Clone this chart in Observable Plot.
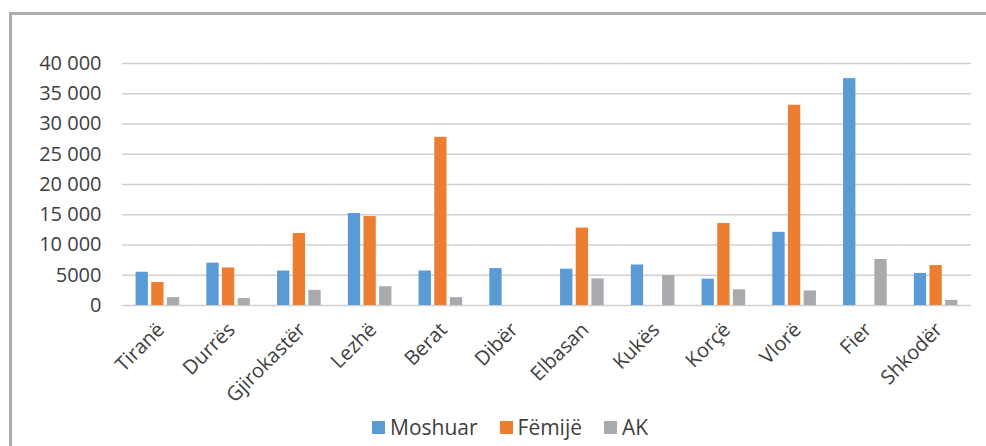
<!DOCTYPE html>
<html>
<head>
<meta charset="utf-8">
<script src="https://cdn.jsdelivr.net/npm/d3@7"></script>
<script src="https://cdn.jsdelivr.net/npm/@observablehq/plot@0.6"></script>
<style>
  body { margin: 0; background: #fff; }
  #wrap { position: relative; width: 986px; height: 446px; overflow: hidden; font-family: "Open Sans", sans-serif; }
  #frame { position: absolute; left: 9px; top: 12px; width: 1100px; height: 600px; border-top: 3px solid #adadad; border-left: 3px solid #adadad; box-sizing: border-box; }
  #chart { position: absolute; left: 0; top: 0; }
  #legend { position: absolute; left: 372px; top: 413px; display: flex; align-items: center; font-size: 21px; color: #404040; line-height: 28px; }
  .item { display: flex; align-items: center; margin-right: 22px; }
  .sw { width: 13px; height: 13px; margin-right: 5px; }
</style>
</head>
<body>
<div id="wrap">
  <div id="frame"></div>
  <div id="chart"></div>
  <div id="legend"></div>
</div>
<script>
const regions = ["Tiranë","Durrës","Gjirokastër","Lezhë","Berat","Dibër","Elbasan","Kukës","Korçë","Vlorë","Fier","Shkodër"];
const seriesNames = ["Moshuar","Fëmijë","AK"];
const moshuar = [5500, 7000, 5700, 15200, 5700, 6100, 6000, 6700, 4350, 12100, 37500, 5300];
const femije  = [3800, 6200, 11900, 14700, 27800, 0, 12800, 0, 13550, 33100, 0, 6600];
const ak      = [1300, 1150, 2500, 3100, 1300, 0, 4400, 4950, 2600, 2400, 7600, 850];
const colors = ["#5B9BD5", "#ED7D31", "#A9AAAD"];
const yTicks = [0, 5000, 10000, 15000, 20000, 25000, 30000, 35000, 40000];
const yTickLabels = ["0", "5000", "10 000", "15 000", "20 000", "25 000", "30 000", "35 000", "40 000"];

const seriesValues = [moshuar, femije, ak];
const rows = [];
regions.forEach((r, i) => {
  seriesNames.forEach((s, j) => {
    const v = seriesValues[j][i];
    if (v > 0) rows.push({region: r, series: s, value: v});
  });
});

const chart = Plot.plot({
  width: 986,
  height: 405,
  marginLeft: 122,
  marginRight: 15,
  marginTop: 63,
  marginBottom: 100,
  style: {fontFamily: "'Open Sans', sans-serif", fontSize: "20px", color: "#404040", background: "transparent", overflow: "visible"},
  fx: {domain: regions, padding: 0, round: false, label: null},
  x: {domain: seriesNames, paddingInner: 0.214, paddingOuter: 0.867, round: false, axis: null},
  y: {domain: [0, 40000], label: null},
  color: {domain: seriesNames, range: colors},
  marks: [
    Plot.gridY(yTicks, {stroke: "#d0d0d0", strokeOpacity: 1, strokeWidth: 1.5}),
    Plot.axisY(yTicks, {tickSize: 0, tickPadding: 21, tickFormat: d => yTickLabels[yTicks.indexOf(d)], label: null, fill: "#404040"}),
    Plot.axisFx({anchor: "bottom", tickRotate: -45, tickSize: 0, tickPadding: 21, dx: 3, label: null, fill: "#404040"}),
    Plot.barY(rows, {fx: "region", x: "series", y: "value", fill: "series"})
  ]
});
document.getElementById("chart").appendChild(chart);

const legend = document.getElementById("legend");
seriesNames.forEach((s, i) => {
  const item = document.createElement("div");
  item.className = "item";
  const sw = document.createElement("div");
  sw.className = "sw";
  sw.style.background = colors[i];
  const t = document.createElement("span");
  t.textContent = s;
  item.appendChild(sw);
  item.appendChild(t);
  legend.appendChild(item);
});
</script>
</body>
</html>
